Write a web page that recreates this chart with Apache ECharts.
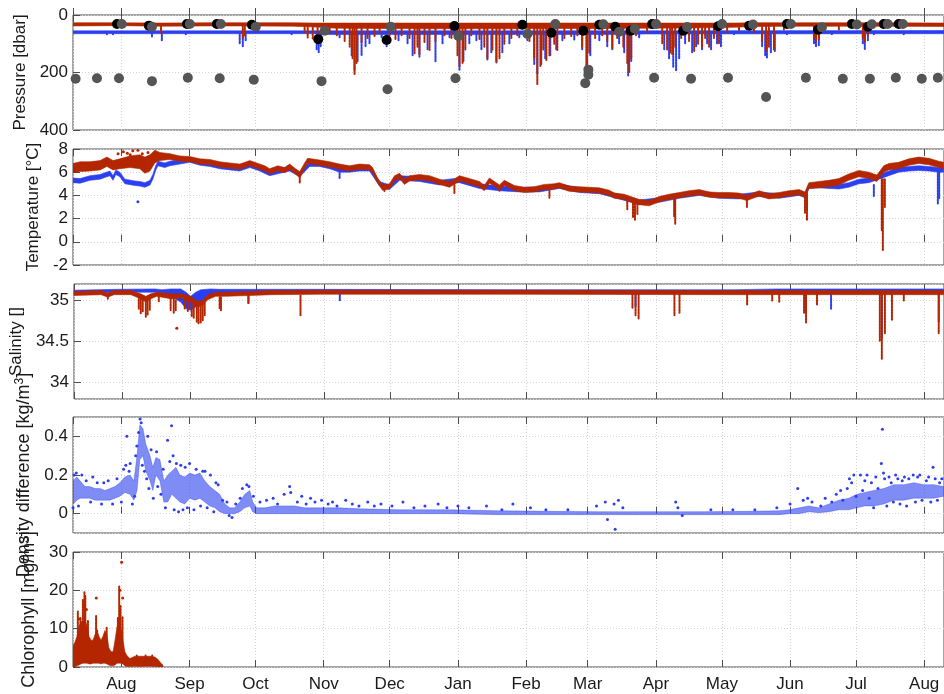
<!DOCTYPE html>
<html><head><meta charset="utf-8">
<script src="https://cdn.jsdelivr.net/npm/echarts@6/dist/echarts.min.js"></script>
<style>html,body{margin:0;padding:0;background:#fff}#c{width:944px;height:694px}</style>
</head><body><div id="c"></div>
<script>
// ---- time frame (day offsets from 2018-07-10 UTC) ----
const START = Date.UTC(2018, 6, 10);
const END = Date.UTC(2019, 7, 10);
const DAY = 86400000;
const monthLabels = ['Jan','Feb','Mar','Apr','May','Jun','Jul','Aug','Sep','Oct','Nov','Dec'];

// ---- Pressure [dbar] ----
const presRedBand = [[0,27,38],[20,27,37],[40,28,39],[60,27,38],[80,27,38],[100,27,39],[110,28,42],[120,28,46],[140,28,47],[160,28,48],[180,28,48],[200,28,48],[220,28,47],[240,28,47],[260,28,46],[280,28,45],[300,28,43],[310,27,40],[330,27,39],[350,27,39],[370,27,39],[396,28,40]];
const presRedSpikes = [[40.0,35,63],[77.2,35,80],[78.1,35,70],[105.3,35,60],[106.7,35,78],[109.0,35,82],[111.2,35,70],[113.5,35,60],[116.7,35,65],[119.9,35,70],[123.5,35,90],[125.8,35,110],[127.1,35,150],[128.0,35,205],[128.9,35,170],[131.2,35,95],[133.9,35,80],[137.1,35,75],[139.4,35,65],[143.9,35,70],[146.6,35,85],[149.4,35,70],[153.0,35,80],[155.3,35,133],[156.6,35,110],[157.5,35,139],[159.8,35,95],[162.1,35,122],[164.8,35,90],[168.9,35,70],[172.1,35,80],[174.8,35,140],[175.7,35,180],[177.1,35,170],[178.4,35,120],[181.1,35,70],[184.8,35,85],[187.0,35,110],[188.4,35,150],[190.7,35,120],[192.5,35,162],[193.9,35,150],[196.1,35,100],[199.3,35,80],[202.0,35,70],[207.5,35,90],[209.7,35,150],[211.1,35,243],[212.5,35,180],[213.8,35,120],[215.2,35,157],[216.6,35,140],[218.8,35,100],[220.2,35,122],[223.4,35,80],[226.5,35,75],[229.3,35,70],[231.5,35,110],[233.4,35,191],[234.7,35,130],[237.4,35,80],[240.6,35,70],[242.9,35,90],[245.2,35,115],[247.4,35,80],[250.2,35,110],[252.0,35,170],[252.9,35,198],[253.8,35,150],[256.0,35,70],[261.0,35,60],[267.9,35,98],[270.1,35,120],[271.5,35,130],[272.4,35,139],[273.8,35,110],[276.5,35,80],[280.1,35,90],[282.4,35,128],[284.2,35,100],[286.0,35,110],[287.4,35,80],[289.2,35,110],[291.4,35,80],[293.7,35,98],[297.4,35,60],[302.8,35,55],[309.6,35,60],[313.3,35,90],[315.1,35,128],[316.4,35,110],[318.7,35,120],[323.2,35,50],[336.9,35,80],[337.8,35,93],[339.1,35,85],[348.2,35,50],[359.1,35,80],[360.0,35,93],[361.4,35,70],[375.4,35,45]];
const presBlueBand = [[0,55,65],[110,55,65],[115,55,68],[250,55,68],[260,55,66],[396,54,65]];
const presBlueSpikes = [[15.4,60,70],[18.2,60,68],[35.9,60,75],[40.4,60,88],[51.3,60,70],[75.8,60,100],[77.2,60,112],[78.5,60,90],[99.4,60,70],[110.8,60,122],[111.7,60,133],[112.6,60,110],[121.2,60,80],[126.7,60,140],[128.0,60,190],[129.4,60,160],[131.2,60,139],[133.0,60,110],[134.8,60,98],[140.3,60,80],[142.6,60,110],[148.0,60,90],[152.1,60,100],[154.4,60,140],[157.5,60,145],[161.2,60,120],[164.8,60,162],[168.0,60,100],[171.2,60,80],[175.7,60,190],[177.5,60,160],[180.2,60,100],[183.4,60,90],[185.7,60,122],[188.4,60,155],[190.2,60,130],[192.5,60,165],[195.2,60,130],[198.4,60,100],[202.9,60,80],[206.6,60,90],[209.7,60,170],[211.1,60,205],[212.9,60,170],[214.7,60,150],[217.0,60,140],[219.7,60,120],[222.5,60,90],[227.9,60,85],[231.5,60,120],[233.8,60,200],[235.2,60,140],[239.3,60,90],[242.9,60,110],[245.2,60,120],[248.3,60,100],[250.6,60,130],[252.4,60,210],[253.8,60,160],[257.4,60,80],[268.8,60,120],[271.0,60,150],[272.9,60,180],[274.2,60,193],[275.6,60,150],[278.3,60,100],[281.5,60,130],[283.3,60,110],[286.0,60,120],[288.3,60,100],[290.1,60,120],[292.8,60,100],[294.6,60,110],[300.5,60,70],[313.3,60,110],[314.7,60,140],[315.5,60,148],[317.3,60,130],[319.1,60,125],[324.6,60,70],[336.9,60,100],[337.8,60,112],[339.1,60,105],[345.0,60,70],[359.1,60,100],[360.0,60,118],[361.4,60,90],[364.1,60,70],[377.7,60,70]];
const presBlackDots = [[20.0,31],[34.5,37],[51.8,31],[65.4,31],[81.3,34],[111.5,84],[142.6,87],[173.4,38],[204.3,34],[217.5,62],[232.0,55],[239.3,34],[246.5,41],[253.5,55],[263.3,31],[277.4,55],[293.3,39],[307.4,37],[324.6,31],[338.7,51],[354.1,31],[361.4,41],[368.6,31],[375.4,31]];
const presGreyDots = [[22.2,31],[35.9,41],[53.1,31],[67.2,31],[83.1,41],[114.4,55],[144.4,41],[175.2,73],[206.6,66],[219.3,31],[241.1,32],[248.3,58],[255.4,48],[265.1,31],[279.2,42],[295.1,31],[309.2,33],[326.4,31],[340.5,43],[356.4,33],[363.2,32],[370.4,31],[377.3,31]];
const presGreyDeepDots = [[1.2,222],[10.9,220],[20.9,220],[35.9,230],[52.2,218],[66.7,220],[82.2,225],[113.0,230],[143.0,258],[173.9,220],[232.9,237],[234.3,208],[234.3,190],[264.2,218],[281.0,222],[297.8,218],[315.1,285],[333.2,218],[350.0,222],[362.3,222],[374.1,218],[385.9,222],[393.2,218]];

// ---- Temperature [°C] ----
const tempRedBand = [[0,5.95,6.75],[3.2,6.05,6.9],[7.7,6.1,6.9],[12.3,6.2,7.0],[15.4,6.5,7.3],[18.2,6.2,7.0],[21.3,6.3,7.15],[25.9,6.4,7.4],[30.4,6.3,7.5],[32.7,5.9,7.3],[35.0,6.1,7.5],[37.2,6.8,7.9],[39.5,7.0,7.7],[44.0,7.1,7.6],[48.6,6.95,7.4],[53.1,6.9,7.35],[57.7,6.7,7.15],[62.2,6.65,7.1],[66.7,6.45,6.9],[71.3,6.35,6.8],[75.8,6.25,6.7],[80.4,6.55,7.0],[84.9,6.25,6.7],[87.2,6.1,6.55],[89.4,5.85,6.3],[93.1,6.1,6.55],[96.2,5.95,6.4],[98.5,6.25,6.7],[101.2,5.85,6.3],[103.1,5.5,6.05],[105.3,6.35,6.8],[106.7,6.75,7.2],[112.1,6.6,7.05],[116.7,6.45,6.9],[121.2,6.25,6.7],[125.8,6.1,6.55],[130.3,6.25,6.7],[134.8,6.2,6.65],[136.2,5.95,6.4],[138.5,5.05,5.5],[140.7,4.45,4.9],[143.9,4.55,5.0],[146.2,5.25,5.7],[148.5,5.45,5.9],[150.7,4.95,5.4],[153.0,5.25,5.7],[157.5,5.35,5.8],[162.1,5.25,5.7],[166.6,4.95,5.4],[171.2,4.7,5.15],[175.7,5.25,5.7],[180.2,5.0,5.45],[184.8,4.75,5.2],[187.0,4.4,4.85],[189.3,5.05,5.5],[193.9,4.5,4.9],[196.1,4.85,5.3],[200.7,4.4,4.85],[205.2,4.25,4.7],[209.7,4.3,4.75],[214.3,4.5,4.95],[218.8,4.55,5.0],[221.1,4.65,5.1],[225.6,4.35,4.8],[230.2,4.3,4.75],[234.7,4.25,4.7],[239.3,4.2,4.65],[243.8,4.0,4.45],[246.1,3.75,4.2],[250.6,3.65,4.1],[252.9,3.5,3.95],[257.4,3.2,3.65],[262.0,3.1,3.55],[266.5,3.45,3.9],[271.0,3.65,4.1],[275.6,3.8,4.25],[280.1,3.95,4.4],[284.7,4.05,4.5],[289.2,3.85,4.3],[293.7,3.8,4.25],[298.3,3.8,4.25],[302.8,3.75,4.2],[306.4,3.55,4.0],[311.9,3.95,4.4],[316.4,3.7,4.15],[321.0,3.8,4.25],[325.5,3.95,4.4],[330.1,4.05,4.5],[332.8,3.85,4.3],[334.6,4.6,5.1],[339.1,4.65,5.2],[343.7,4.75,5.3],[348.2,4.9,5.45],[352.7,5.3,5.85],[357.3,5.6,6.15],[361.8,5.45,6.0],[365.5,5.2,5.75],[368.6,6.0,6.55],[370.9,6.2,6.75],[375.4,6.3,6.85],[380.0,6.6,7.15],[384.5,6.75,7.3],[389.1,6.65,7.2],[393.6,6.4,6.95],[395.9,6.3,6.85]];
const tempRedSpikes = [[103.1,5.8,5.05],[141.6,4.8,4.3],[173.4,4.9,4.2],[193.9,4.8,4.4],[216.6,4.6,3.8],[252.0,3.7,2.8],[254.6,3.6,2.1],[255.5,3.6,1.9],[256.6,3.5,2.4],[273.3,3.8,2.2],[273.8,3.8,1.5],[306.4,3.9,3.0],[332.8,4.1,2.5],[333.7,4.1,1.9],[367.7,5.4,1.0],[368.2,5.4,-0.7],[369.1,5.4,3.0]];
const tempRedDots = [[20.5,7.6],[22.9,7.77],[24.7,7.63],[27.2,7.85],[29.5,7.9],[34.1,7.7],[26.0,7.5],[31.5,7.6]];
const tempBlueBand = [[0,5.1,5.5],[3.2,5.05,5.45],[7.7,5.3,5.7],[12.3,5.4,5.8],[14.5,5.55,5.95],[16.8,5.7,6.1],[18.2,5.3,5.7],[19.5,5.8,6.2],[21.3,5.6,6.0],[23.6,5.0,5.4],[28.1,4.85,5.25],[30.4,4.8,5.2],[32.7,4.7,5.1],[35.0,4.9,5.3],[36.3,5.4,5.8],[37.7,6.2,6.6],[38.6,6.55,6.95],[41.7,6.4,6.8],[44.0,6.55,6.95],[48.6,6.7,7.1],[53.1,6.85,7.25],[57.7,6.6,7.0],[62.2,6.5,6.9],[66.7,6.3,6.7],[71.3,6.2,6.6],[75.8,6.1,6.5],[80.4,6.4,6.8],[84.9,6.1,6.5],[89.4,5.7,6.1],[94.0,5.9,6.3],[98.5,6.1,6.5],[103.1,5.6,6.0],[107.6,6.5,6.9],[112.1,6.5,6.9],[116.7,6.3,6.7],[121.2,6.0,6.4],[125.8,6.0,6.4],[130.3,6.1,6.5],[134.8,6.1,6.5],[139.4,4.8,5.2],[143.9,4.5,4.9],[148.5,5.3,5.7],[157.5,5.2,5.6],[166.6,4.9,5.3],[175.7,5.1,5.5],[184.8,4.6,5.0],[193.9,4.4,4.8],[202.9,4.3,4.7],[212.0,4.3,4.7],[221.1,4.6,5.0],[230.2,4.25,4.65],[239.3,4.15,4.55],[248.3,3.7,4.1],[257.4,3.2,3.6],[266.5,3.4,3.8],[275.6,3.75,4.15],[284.7,4.0,4.4],[293.7,3.75,4.15],[302.8,3.7,4.1],[311.9,3.9,4.3],[321.0,3.75,4.15],[330.1,4.0,4.4],[332.8,3.8,4.2],[334.6,4.6,5.0],[339.1,4.65,5.05],[343.7,4.6,5.0],[348.2,4.55,4.95],[352.7,4.7,5.1],[357.3,5.0,5.4],[361.8,5.1,5.5],[366.4,5.4,5.8],[370.9,5.7,6.1],[375.4,6.0,6.4],[380.0,6.1,6.5],[384.5,6.15,6.55],[389.1,6.1,6.5],[393.6,6.0,6.4],[395.9,6.0,6.4]];
const tempBlueSpikes = [[121.2,6.2,5.5],[333.7,4.2,2.75],[364.1,4.9,3.9],[393.2,6.0,3.3],[393.8,6.0,3.7]];
const tempBlueDots = [[29.5,3.45]];

// ---- Salinity ----
const salRedBand = [[0,35.06,35.11],[12.3,35.07,35.12],[15.4,35.04,35.09],[18.2,35.07,35.12],[25.9,35.07,35.12],[30.4,35.02,35.08],[32.7,34.98,35.05],[35.0,35.02,35.08],[37.7,35.05,35.1],[44.0,35.02,35.08],[48.6,35.03,35.08],[53.1,34.98,35.05],[56.0,34.92,34.99],[58.5,34.94,35.0],[61.0,35.01,35.07],[64.5,35.05,35.1],[69,35.05,35.1],[80,35.06,35.11],[90,35.07,35.12],[112,35.075,35.125],[200,35.075,35.125],[300,35.07,35.12],[395.9,35.07,35.12]];
const salRedSpikes = [[15.4,35.06,35.02],[29.5,35.05,34.9],[30.4,35.05,34.84],[31.3,35.04,34.86],[32.7,35.0,34.8],[33.5,35.0,34.83],[34.5,35.02,34.88],[38.6,35.05,34.98],[44.0,35.03,34.88],[45.4,35.02,34.84],[46.3,35.0,34.88],[50.4,35.0,34.9],[51.8,35.0,34.87],[53.6,34.98,34.8],[54.5,34.96,34.78],[55.9,34.94,34.74],[56.7,34.93,34.72],[57.7,34.93,34.73],[58.6,34.95,34.76],[59.5,34.97,34.82],[66.3,35.04,34.9],[66.9,35.04,34.88],[79.4,35.06,34.97],[103.1,35.06,34.82],[254.2,35.08,34.9],[255.6,35.08,34.82],[257.0,35.08,34.78],[273.3,35.08,34.82],[275.6,35.08,34.85],[306.4,35.08,34.95],[317.8,35.08,35.0],[321.0,35.08,34.98],[332.3,35.08,34.85],[333.2,35.08,34.73],[338.2,35.08,34.95],[366.8,35.08,34.5],[367.7,35.08,34.28],[369.1,35.08,34.6],[372.3,35.08,34.76],[377.7,35.08,35.0],[393.6,35.08,34.6]];
const salRedDots = [[46.8,34.66]];
const salBlueBand = [[0,35.09,35.125],[20,35.1,35.135],[37,35.1,35.14],[40,35.07,35.13],[44,35.05,35.14],[48.6,34.98,35.14],[51,34.9,35.1],[53.1,34.88,35.05],[55.4,34.92,35.1],[57.7,34.98,35.13],[62.2,35.06,35.14],[66,35.09,35.135],[80,35.095,35.135],[112,35.1,35.135],[200,35.1,35.13],[300,35.095,35.13],[320,35.1,35.14],[395.9,35.1,35.14]];
const salBlueSpikes = [[79.4,35.08,34.97],[121,35.1,35.0],[255.6,35.1,34.92],[333.2,35.1,34.85],[344.6,35.1,34.9],[367.7,35.1,34.55],[393.6,35.1,34.74]];

// ---- Density difference [kg/m3] ----
const densBand = [[0,0.05,0.17],[1.8,0.07,0.19],[3.2,0.08,0.17],[5.4,0.08,0.14],[7.7,0.08,0.14],[10.0,0.07,0.13],[12.3,0.07,0.13],[14.5,0.07,0.12],[16.8,0.07,0.13],[19.1,0.08,0.14],[21.3,0.09,0.16],[23.6,0.11,0.19],[25.9,0.10,0.20],[27.7,0.07,0.17],[29.1,0.12,0.30],[30.4,0.28,0.46],[31.8,0.30,0.44],[33.1,0.22,0.36],[35.0,0.17,0.30],[36.3,0.12,0.24],[37.7,0.20,0.29],[39.5,0.17,0.28],[41.3,0.06,0.17],[43.1,0.06,0.20],[44.9,0.10,0.22],[46.8,0.08,0.24],[48.6,0.06,0.20],[50.8,0.05,0.19],[53.1,0.08,0.21],[55.4,0.07,0.20],[57.7,0.08,0.21],[59.9,0.06,0.17],[62.2,0.04,0.14],[64.5,0.03,0.12],[66.7,0.01,0.10],[69.0,0.0,0.05],[71.3,0.0,0.03],[73.5,0.0,0.03],[75.8,0.01,0.06],[78.1,0.03,0.10],[80.4,0.04,0.12],[81.7,0.01,0.06],[83.5,0.0,0.03],[87.2,0.0,0.03],[91.7,0.0,0.04],[96.2,0.0,0.04],[100.8,0.0,0.04],[105.3,0.0,0.03],[112.1,0.0,0.03],[121.2,0.0,0.03],[130.3,0.0,0.025],[148.5,0.0,0.02],[171.2,0.0,0.02],[193.9,-0.005,0.015],[216.6,-0.005,0.012],[239.3,-0.005,0.01],[262.0,-0.005,0.01],[284.7,-0.005,0.01],[307.4,-0.005,0.012],[321.0,-0.005,0.015],[325.5,0.0,0.02],[330.1,0.0,0.03],[334.6,0.01,0.04],[339.1,0.005,0.03],[343.7,0.01,0.05],[348.2,0.02,0.07],[352.7,0.02,0.08],[356.4,0.03,0.10],[360.0,0.04,0.11],[364.1,0.04,0.12],[368.6,0.05,0.13],[373.2,0.07,0.15],[377.7,0.07,0.15],[382.3,0.08,0.16],[386.8,0.08,0.15],[391.4,0.08,0.15],[395.9,0.09,0.14]];
const densDots = [[0,0.03],[0.5,0.2],[1.5,0.21],[2.5,0.04],[4,0.2],[6,0.17],[8,0.06],[9,0.19],[11,0.16],[13,0.05],[14,0.16],[16,0.17],[18,0.05],[20,0.18],[22,0.06],[23,0.23],[24,0.25],[25.5,0.22],[26,0.26],[24.5,0.4],[27,0.05],[28,0.09],[28.5,0.3],[29,0.35],[29.8,0.42],[30.5,0.49],[31,0.47],[31.5,0.25],[32.5,0.22],[33.5,0.18],[34,0.40],[34.5,0.13],[35.5,0.33],[36.5,0.08],[38,0.32],[38.5,0.14],[40,0.1],[41,0.23],[42,0.03],[43,0.38],[44,0.27],[44.8,0.455],[45.5,0.30],[46,0.02],[47,0.26],[48,0.01],[49,0.25],[50,0.02],[51,0.24],[52,0.03],[53,0.26],[55,0.02],[56,0.23],[58,0.04],[59,0.22],[60,0.22],[61,0.03],[62.5,0.2],[64,0.01],[65,0.16],[66,0.15],[68,0.07],[70,0.06],[71,-0.01],[72.3,-0.02],[74,0.05],[76,0.08],[77,0.13],[79,0.15],[80,0.14],[82,0.09],[85,0.06],[88,0.07],[91,0.08],[93,0.05],[96,0.1],[98.5,0.14],[99,0.11],[102,0.06],[104,0.09],[106,0.05],[108,0.08],[110,0.06],[113,0.07],[116,0.05],[118,0.06],[120,0.04],[124,0.07],[127,0.05],[130,0.04],[134,0.06],[137,0.04],[140,0.05],[145,0.04],[150,0.06],[155,0.03],[160,0.04],[166,0.05],[170,0.03],[175,0.04],[180,0.03],[188,0.04],[195,0.02],[200,0.05],[208,0.03],[215,0.02],[225,0.02],[238,0.04],[242,0.06],[243,-0.03],[246.5,-0.08],[246,0.05],[248,0.07],[250,0.03],[274,0.06],[275,0.03],[277,-0.01],[290,0.02],[300,0.02],[310,0.02],[320,0.03],[326,0.05],[329.5,0.13],[332,0.07],[334,0.08],[336,0.06],[340,0.04],[342,0.08],[345,0.06],[347,0.1],[349,0.12],[350,0.07],[352,0.13],[353,0.18],[354,0.16],[355,0.2],[356,0.09],[358,0.2],[359,0.12],[360,0.17],[361,0.2],[362,0.08],[363,0.16],[364,0.03],[365,0.19],[366,0.13],[367.5,0.26],[368,0.437],[368.5,0.21],[369,0.18],[370,0.04],[371,0.19],[372,0.16],[373,0.06],[374,0.2],[375,0.18],[376,0.05],[377,0.17],[378,0.19],[379,0.04],[380,0.18],[382,0.2],[383,0.06],[384,0.19],[385,0.2],[386,0.07],[388,0.17],[389,0.19],[390,0.06],[391,0.24],[392,0.18],[393,0.07],[394,0.16],[395,0.18]];

// ---- Chlorophyll [mg/m3] ----
const chlBand = [[0,0,5.5],[0.9,0,6.5],[1.8,0.3,8],[2.7,0.5,10.5],[3.6,0.8,12],[4.5,1,11.5],[5.4,1,12.5],[6.4,1,10.5],[7.3,0.8,8],[8.2,0.8,7],[9.1,1,7],[10.0,1,8.5],[10.9,1,9.5],[11.8,1,8],[12.7,0.8,7],[13.6,1,8],[14.5,1,9.5],[15.4,0.8,8.5],[16.3,0.5,5],[17.3,0.3,4],[18.2,0.3,4],[19.1,0.5,7],[20.0,1,10.5],[20.9,1,11.5],[21.8,1,10],[22.7,0.8,7],[23.6,0.3,4],[24.5,0.1,3],[25.9,0.1,2.2],[28.1,0.2,2.8],[30.4,0.1,2.8],[32.7,0.2,2.8],[35.0,0.2,2.8],[37.2,0.1,2.6],[38.6,0,2],[40.0,0,1],[40.9,0,0.5]];
const chlSpikes = [[2.2,5,14.5],[3.4,6,13],[4.5,6,17.5],[5.2,8,19.6],[5.6,8,18.5],[6.8,6,12],[10.5,5,13.3],[11.0,6,9.5],[15.3,5,10.3],[20.4,6,13],[21.0,8,21],[21.6,6,16],[22.5,4,13],[29,1,3],[33,1,3],[36,1,3]];
const chlDots = [[10.6,18],[22.1,27.3],[21.3,20],[22.6,18],[4.9,16],[6.1,15],[2.8,12.5]];

// ---- styling ----
const RED = '#b32600', BLUE = '#2b3ff0', GREY = '#555555', BLACK = '#000000';
const FONT = 'Liberation Sans, Arial, Helvetica, sans-serif';
const TXT = '#1a1a1a', AX = '#4d4d4d';
const t = d => START + d * DAY;

const grids = [
  {top: 15, height: 115}, {top: 149, height: 116}, {top: 284, height: 115},
  {top: 417, height: 116}, {top: 552, height: 115}
].map(g => Object.assign({left: 73, width: 872, show: true, borderColor: AX, borderWidth: 1, backgroundColor: 'transparent'}, g));

const tickStyle = {show: true, inside: true, length: 7, lineStyle: {color: AX, width: 1}};
const splitStyle = {show: true, lineStyle: {color: '#d4d4d4', width: 1, type: [1, 2]}};
const xAxes = [];
grids.forEach((g, i) => {
  xAxes.push({type: 'time', gridIndex: i, min: START, max: END, position: 'bottom',
    splitNumber: 13, minInterval: 27 * DAY, maxInterval: 32 * DAY,
    axisLine: {show: false}, axisTick: tickStyle, splitLine: splitStyle,
    axisLabel: {show: i === 4, margin: 9, color: TXT, fontSize: 17, fontFamily: FONT,
      formatter: v => { const d = new Date(v); return d.getUTCDate() === 1 ? monthLabels[d.getUTCMonth()] : ''; }}});
  xAxes.push({type: 'time', gridIndex: i, min: START, max: END, position: 'top',
    splitNumber: 13, minInterval: 27 * DAY, maxInterval: 32 * DAY,
    axisLine: {show: false}, axisTick: tickStyle, splitLine: {show: false}, axisLabel: {show: false}});
});
const lab = {color: TXT, fontSize: 17, fontFamily: FONT, margin: 5};
const nameStyle = {color: TXT, fontSize: 17, fontFamily: FONT,
  rich: {a: {fontSize: 18, fontFamily: FONT, color: TXT, lineHeight: 21}, s: {fontSize: 12, fontFamily: FONT, color: TXT, verticalAlign: 'top', lineHeight: 12}}};
function yAx(i, o) {
  return Object.assign({type: 'value', gridIndex: i, nameLocation: 'middle', nameRotate: 90, nameTextStyle: nameStyle,
    axisLine: {show: false}, axisTick: tickStyle, splitLine: splitStyle, axisLabel: Object.assign({}, lab)}, o);
}
const yAxes = [
  yAx(0, {min: 0, max: 400, interval: 200, inverse: true, name: 'Pressure [dbar]', nameGap: 34}),
  yAx(1, {min: -2, max: 8, interval: 2, name: 'Temperature [°C]', nameGap: 23}),
  yAx(2, {min: 33.8, max: 35.2, splitNumber: 3, name: 'Salinity []', nameGap: 39,
    axisLabel: Object.assign({showMinLabel: false, showMaxLabel: false}, lab)}),
  yAx(3, {min: -0.1, max: 0.5, splitNumber: 3, name: '{a|Density difference [kg/m}{s|3}{a|]}', nameGap: 36,
    axisLabel: Object.assign({showMinLabel: false, showMaxLabel: false}, lab)}),
  yAx(4, {min: 0, max: 30, interval: 10, name: '{a|Chlorophyll [mg/m}{s|3}{a|]}', nameGap: 29})
];

function band(rows, color, gi, opacity) {
  return {type: 'custom', xAxisIndex: gi * 2, yAxisIndex: gi, silent: true, animation: false, clip: true,
    data: rows.map(r => [t(r[0]), r[1], r[2]]), encode: {x: 0, y: [1, 2]},
    renderItem: (params, api) => {
      if (params.dataIndex !== 0) return null;
      const pts = [];
      for (let k = 0; k < rows.length; k++) pts.push(api.coord([t(rows[k][0]), rows[k][2]]));
      for (let k = rows.length - 1; k >= 0; k--) pts.push(api.coord([t(rows[k][0]), rows[k][1]]));
      return {type: 'polygon', shape: {points: pts}, style: {fill: color, stroke: color, lineWidth: 0.6, opacity: opacity || 1}};
    }};
}
function spikes(rows, color, gi, w) {
  return {type: 'custom', xAxisIndex: gi * 2, yAxisIndex: gi, silent: true, animation: false, clip: true,
    data: rows.map(r => [t(r[0]), r[1], r[2]]), encode: {x: 0, y: [1, 2]},
    renderItem: (params, api) => {
      const a = api.coord([api.value(0), api.value(1)]);
      const b = api.coord([api.value(0), api.value(2)]);
      return {type: 'line', shape: {x1: a[0], y1: a[1], x2: b[0], y2: b[1]}, style: {stroke: color, lineWidth: w, lineCap: 'round', lineDash: [2, 1]}};
    }};
}
function dots(rows, color, gi, size) {
  return {type: 'scatter', xAxisIndex: gi * 2, yAxisIndex: gi, silent: true, animation: false,
    symbolSize: size, itemStyle: {color: color, opacity: 1}, data: rows.map(r => [t(r[0]), r[1]])};
}

const series = [
  band(presBlueBand, BLUE, 0), spikes(presBlueSpikes, BLUE, 0, 2),
  band(presRedBand, RED, 0), spikes(presRedSpikes, RED, 0, 2),
  dots(presBlackDots, BLACK, 0, 10), dots(presGreyDots, GREY, 0, 10), dots(presGreyDeepDots, GREY, 0, 10),
  band(tempBlueBand, BLUE, 1), spikes(tempBlueSpikes, BLUE, 1, 2), dots(tempBlueDots, BLUE, 1, 3),
  band(tempRedBand, RED, 1), spikes(tempRedSpikes, RED, 1, 2), dots(tempRedDots, RED, 1, 3),
  band(salBlueBand, BLUE, 2), spikes(salBlueSpikes, BLUE, 2, 2),
  band(salRedBand, RED, 2), spikes(salRedSpikes, RED, 2, 2), dots(salRedDots, RED, 2, 3),
  band(densBand, BLUE, 3, 0.6), dots(densDots, BLUE, 3, 3),
  band(chlBand, RED, 4), spikes(chlSpikes, RED, 4, 2), dots(chlDots, RED, 4, 3)
];

const chart = echarts.init(document.getElementById('c'), null, {renderer: 'canvas'});
chart.setOption({animation: false, useUTC: true, backgroundColor: '#fff',
  grid: grids, xAxis: xAxes, yAxis: yAxes, series: series});
</script></body></html>
